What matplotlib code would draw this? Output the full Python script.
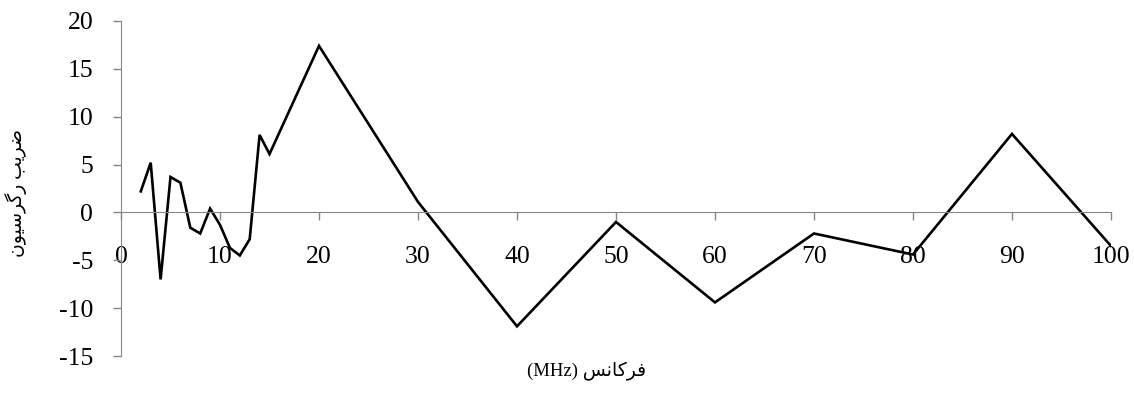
import matplotlib
matplotlib.use('Agg')
import matplotlib.pyplot as plt

# frequency (MHz) and regression coefficient
freq = [2, 3, 4, 5, 6, 7, 8, 9, 10, 11, 12, 13, 14, 15, 20, 30, 40, 50, 60, 70, 80, 90, 100]
coef = [2.2, 5.2, -7.0, 3.7, 3.1, -1.6, -2.2, 0.4, -1.3, -3.7, -4.5, -2.8, 8.1, 6.1,
        17.4, 1.1, -11.9, -1.0, -9.4, -2.2, -4.4, 8.2, -3.5]

x_ticks = list(range(0, 101, 10))
y_ticks = list(range(-15, 21, 5))

# Persian labels written in presentation forms, visual (left-to-right) order,
# since matplotlib does no Arabic shaping
def visual(s):
    return s[::-1]

zarib = '\uFEBF\uFEAE\uFEF3\uFE90'                     # ضریب
regression = '\uFEAD\uFB94\uFEAE\uFEB3\uFEF4\uFEEE\uFEE5'  # رگرسیون
frekans = '\uFED3\uFEAE\uFEDB\uFE8E\uFEE7\uFEB2'         # فرکانس

ylabel = visual(zarib + ' ' + regression)
xlabel = '(MHz) ' + visual(frekans)

plt.rcParams['axes.unicode_minus'] = False

grey = '#868686'
fams = ['Liberation Serif', 'DejaVu Sans']

fig = plt.figure(figsize=(11.34, 3.96), dpi=100)
ax = fig.add_axes([0.1067, 0.101, 0.873, 0.846])

ax.plot(freq, coef, color='black', lw=1.9, solid_joinstyle='miter')

ax.set_xlim(0, 100)
ax.set_ylim(-15, 20)
ax.set_xticks(x_ticks)
ax.set_yticks(y_ticks)

for s in ['top', 'right']:
    ax.spines[s].set_visible(False)
ax.spines['bottom'].set_position(('data', 0))
ax.spines['bottom'].set_color(grey)
ax.spines['left'].set_color(grey)

ax.tick_params(axis='both', colors=grey, length=6, width=1, direction='out')
ax.tick_params(axis='y', pad=14, labelcolor='black', labelsize=18.5)
ax.tick_params(axis='x', pad=18, labelcolor='black', labelsize=18.5)
for lbl in ax.get_xticklabels() + ax.get_yticklabels():
    lbl.set_family('Liberation Serif')

fig.text(0.517, 0.061, xlabel, ha='center', va='center', fontsize=13.5, family=fams)
fig.text(0.014, 0.513, ylabel, ha='center', va='center', rotation=90, fontsize=13.5, family=fams)

fig.savefig('out.png', dpi=100)
